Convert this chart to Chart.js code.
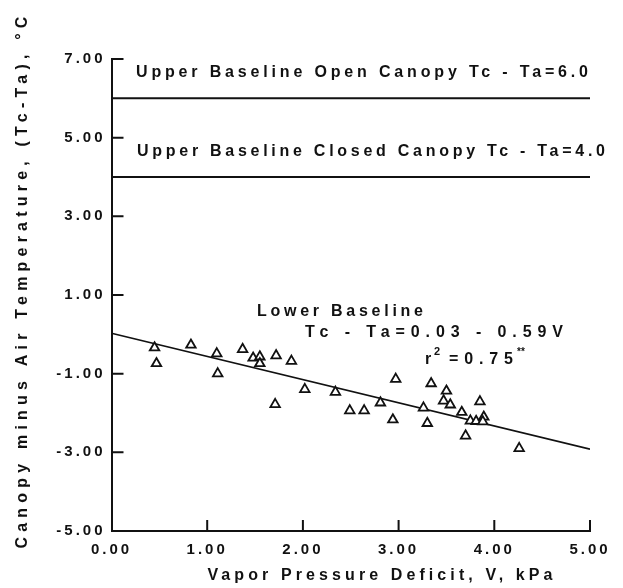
<!DOCTYPE html>
<html>
<head>
<meta charset="utf-8">
<script src="https://cdn.jsdelivr.net/npm/chart.js@4.4.0/dist/chart.umd.min.js"></script>
<style>
  html, body { margin: 0; padding: 0; background: #fff; }
  #wrap { width: 623px; height: 588px; }
</style>
</head>
<body>
<div id="wrap"><canvas id="c" width="623" height="588"></canvas></div>
<script>
// axis ticks
const xTicks = [0, 1, 2, 3, 4, 5];
const yTicks = [-5, -3, -1, 1, 3, 5, 7];

// measured points: vapor pressure deficit (kPa) vs Tc - Ta (°C)
const vpd = [0.45, 0.47, 0.83, 1.10, 1.11, 1.37, 1.48, 1.55, 1.55, 1.72, 1.88, 2.02, 1.71,
  2.34, 2.49, 2.64, 2.81, 2.94, 2.97, 3.26, 3.30, 3.34, 3.50, 3.47, 3.54, 3.66, 3.75,
  3.81, 3.89, 3.88, 3.85, 3.70, 4.26];
const tcTa = [-0.34, -0.74, -0.27, -0.49, -1.00, -0.38, -0.60, -0.57, -0.74, -0.54, -0.68, -1.40, -1.78,
  -1.47, -1.94, -1.94, -1.74, -2.17, -1.14, -1.87, -2.26, -1.25, -1.44, -1.69, -1.79, -1.98, -2.20,
  -2.21, -2.10, -2.22, -1.71, -2.58, -2.90];

// baselines
const openX = [0, 5];
const openY = [6.0, 6.0];
const closedX = [0, 5];
const closedY = [4.0, 4.0];
const lowerX = [0, 5];
const lowerY = [0.03, -2.92];

const ink = '#111';
const FONT = '"Liberation Sans", Arial, sans-serif';

const toXY = (xs, ys) => xs.map((x, i) => ({ x: x, y: ys[i] }));

function lineSet(xs, ys, w) {
  return {
    data: toXY(xs, ys),
    showLine: true,
    borderColor: ink,
    borderWidth: w,
    pointRadius: 0,
    fill: false
  };
}

// draws text stretched to a given width with letter spacing
function fitText(ctx, str, x, y, size, width) {
  ctx.font = 'bold ' + size + 'px ' + FONT;
  ctx.letterSpacing = '0px';
  const w = ctx.measureText(str).width;
  const sp = (width - w) / (str.length - 1);
  ctx.letterSpacing = sp + 'px';
  ctx.fillText(str, x, y);
}

const extras = {
  id: 'extras',
  beforeUpdate(chart) { chart.ctx.letterSpacing = '3px'; },
  beforeDraw(chart) { chart.ctx.letterSpacing = '3px'; },
  afterDraw(chart) {
    const { ctx, chartArea: a, scales: { x, y } } = chart;
    ctx.save();
    // inward tick marks
    ctx.strokeStyle = ink;
    ctx.lineWidth = 2;
    ctx.beginPath();
    x.ticks.forEach(t => {
      if (t.value === 0) return;
      const px = x.getPixelForValue(t.value);
      ctx.moveTo(px, a.bottom);
      ctx.lineTo(px, a.bottom - 11);
    });
    y.ticks.forEach(t => {
      if (t.value === -5) return;
      const py = y.getPixelForValue(t.value);
      ctx.moveTo(a.left, py);
      ctx.lineTo(a.left + 12, py);
    });
    ctx.stroke();

    ctx.fillStyle = ink;
    ctx.textAlign = 'left';
    ctx.textBaseline = 'middle';
    fitText(ctx, 'Upper Baseline Open Canopy Tc - Ta=6.0', 136, 73, 16, 452);
    fitText(ctx, 'Upper Baseline Closed Canopy Tc - Ta=4.0', 137, 152, 16, 468);
    fitText(ctx, 'Lower Baseline', 257, 312, 16, 166);
    fitText(ctx, 'Tc - Ta=0.03 - 0.59V', 305, 333, 16, 258);
    fitText(ctx, 'r', 425, 360, 16, 7);
    ctx.font = 'bold 11px ' + FONT;
    ctx.letterSpacing = '0px';
    ctx.fillText('2', 434, 352);
    fitText(ctx, '=0.75', 449, 360, 16, 64);
    ctx.font = 'bold 10px ' + FONT;
    ctx.letterSpacing = '0px';
    ctx.fillText('**', 517, 352);

    // axis titles
    ctx.textAlign = 'center';
    fitText(ctx, 'Vapor Pressure Deficit, V, kPa', 382, 576, 16, 345);
    ctx.translate(23, 280);
    ctx.rotate(-Math.PI / 2);
    fitText(ctx, 'Canopy minus Air Temperature, (Tc-Ta), °C', 0, 0, 16, 532);
    ctx.restore();
  }
};

new Chart(document.getElementById('c'), {
  type: 'scatter',
  data: {
    datasets: [
      {
        data: toXY(vpd, tcTa),
        pointStyle: 'triangle',
        pointRadius: 5.5,
        borderWidth: 1.8,
        borderColor: ink,
        backgroundColor: '#fff'
      },
      lineSet(lowerX, lowerY, 1.6),
      lineSet(closedX, closedY, 2),
      lineSet(openX, openY, 2)
    ]
  },
  options: {
    responsive: false,
    animation: false,
    events: [],
    layout: { padding: { top: 59, right: 33, bottom: 0, left: 0 } },
    plugins: { legend: { display: false }, tooltip: { enabled: false } },
    scales: {
      x: {
        type: 'linear',
        min: 0,
        max: 5,
        afterBuildTicks: s => { s.ticks = xTicks.map(v => ({ value: v })); },
        afterFit: s => { s.height = 57; },
        grid: { display: true, drawOnChartArea: false, drawTicks: false },
        border: { display: true, color: ink, width: 2 },
        ticks: {
          color: ink,
          padding: 10,
          maxRotation: 0,
          font: { family: FONT, size: 15, weight: 'bold' },
          callback: v => v.toFixed(2)
        }
      },
      y: {
        type: 'linear',
        min: -5,
        max: 7,
        afterBuildTicks: s => { s.ticks = yTicks.map(v => ({ value: v })); },
        afterFit: s => { s.width = 111.5; },
        grid: { display: true, drawOnChartArea: false, drawTicks: false },
        border: { display: true, color: ink, width: 2 },
        ticks: {
          color: ink,
          padding: 6,
          font: { family: FONT, size: 15, weight: 'bold' },
          callback: v => v.toFixed(2)
        }
      }
    }
  },
  plugins: [extras]
});
</script>
</body>
</html>
